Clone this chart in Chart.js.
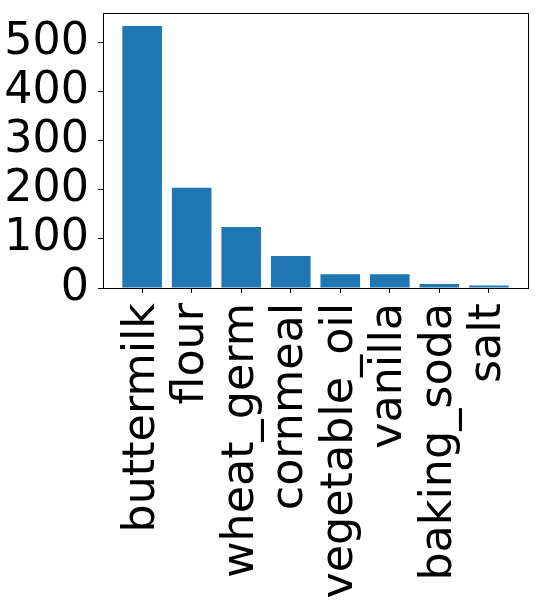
<!DOCTYPE html>
<html>
<head>
<meta charset="utf-8">
<script src="https://cdn.jsdelivr.net/npm/chart.js@4"></script>
<style>
  html, body { margin: 0; padding: 0; background: #ffffff; }
  #wrap { width: 541px; height: 601px; }
</style>
</head>
<body>
<div id="wrap"><canvas id="c" width="541" height="601"></canvas></div>
<script>
const categories = ["buttermilk", "flour", "wheat_germ", "cornmeal", "vegetable_oil", "vanilla", "baking_soda", "salt"];
const values = [533, 204, 124, 65, 28, 28, 8, 5];
const yTicks = [0, 100, 200, 300, 400, 500];

const FONT = "'DejaVu Sans', sans-serif";
const FS = 44.4;

const boxPlugin = {
  id: 'box',
  afterDraw(chart) {
    const a = chart.chartArea, ctx = chart.ctx;
    ctx.save();
    ctx.strokeStyle = '#000';
    ctx.lineWidth = 1;
    ctx.strokeRect(Math.round(a.left) + 0.5, Math.round(a.top) + 0.5,
                   Math.round(a.right - a.left), Math.round(a.bottom - a.top));
    ctx.restore();
  }
};

function zeroPad(scale) {
  scale.paddingTop = 0; scale.paddingBottom = 0;
  scale.paddingLeft = 0; scale.paddingRight = 0;
}

new Chart(document.getElementById('c'), {
  type: 'bar',
  data: {
    datasets: [{
      data: categories.map((c, i) => ({ x: i, y: values[i] })),
      backgroundColor: '#1f77b4',
      borderWidth: 0,
      categoryPercentage: 0.8,
      barPercentage: 1.0
    }]
  },
  options: {
    responsive: false,
    animation: false,
    layout: { padding: { top: 13, right: 13, left: 0, bottom: 0 } },
    plugins: { legend: { display: false }, tooltip: { enabled: false } },
    scales: {
      x: {
        type: 'linear',
        min: -0.79,
        max: categories.length - 1 + 0.79,
        offset: false,
        afterBuildTicks(scale) {
          scale.ticks = categories.map((c, i) => ({ value: i }));
        },
        afterFit(scale) { scale.height = 313; zeroPad(scale); },
        ticks: {
          autoSkip: false,
          minRotation: 90,
          maxRotation: 90,
          padding: 10,
          color: '#000',
          font: { family: FONT, size: FS },
          callback: (v) => categories[v]
        },
        grid: { offset: false, drawOnChartArea: false, drawTicks: true, tickLength: 5, tickColor: '#000' },
        border: { display: true, color: '#000', width: 1 }
      },
      y: {
        min: 0,
        max: 559.65,
        afterBuildTicks(scale) {
          scale.ticks = yTicks.map(v => ({ value: v }));
        },
        afterFit(scale) { scale.width = 103; zeroPad(scale); },
        ticks: {
          autoSkip: false,
          padding: 9,
          color: '#000',
          font: { family: FONT, size: FS }
        },
        grid: { drawOnChartArea: false, drawTicks: true, tickLength: 5, tickColor: '#000' },
        border: { display: true, color: '#000', width: 1 }
      }
    }
  },
  plugins: [boxPlugin]
});
</script>
</body>
</html>
